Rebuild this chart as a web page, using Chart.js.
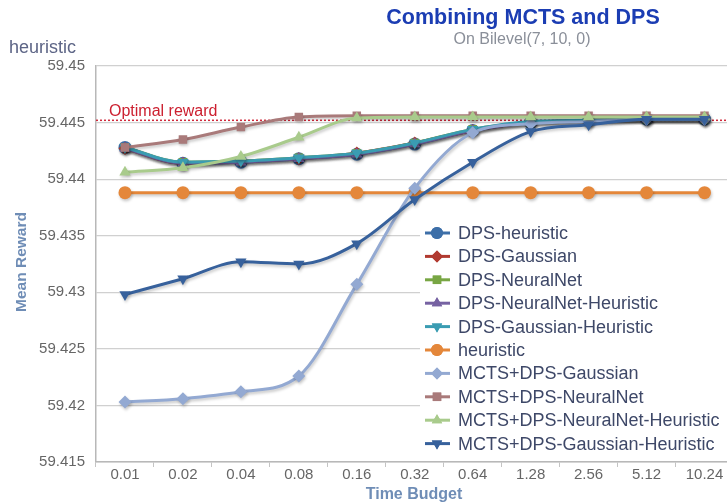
<!DOCTYPE html>
<html>
<head>
<meta charset="utf-8">
<script src="https://cdn.jsdelivr.net/npm/chart.js@4.4.1/dist/chart.umd.min.js"></script>
<style>
  html, body { margin: 0; padding: 0; background: #fff; overflow: hidden; }
  #wrap { position: relative; width: 740px; height: 504px; }
</style>
</head>
<body>
<div id="wrap"><canvas id="chart"></canvas></div>
<script>
  // ---- data ----
  const budgets = ['0.01', '0.02', '0.04', '0.08', '0.16', '0.32', '0.64', '1.28', '2.56', '5.12', '10.24'];
  const yTicks  = [59.415, 59.42, 59.425, 59.43, 59.435, 59.44, 59.445, 59.45];
  const optimalReward = 59.4452;

  const dpsHeuristic      = [59.4428, 59.4414, 59.4415, 59.4418, 59.4422, 59.4431, 59.4443, 59.4450, 59.4452, 59.4453, 59.4453];
  const dpsGaussian       = [59.4427, 59.4414, 59.4416, 59.4418, 59.4423, 59.4432, 59.4443, 59.4450, 59.4452, 59.4453, 59.4453];
  const dpsNeuralNet      = [59.4428, 59.4415, 59.4416, 59.4419, 59.4423, 59.4432, 59.4444, 59.4450, 59.4452, 59.4453, 59.4453];
  const dpsNNHeuristic    = [59.4427, 59.4414, 59.4415, 59.4418, 59.4422, 59.4431, 59.4443, 59.4450, 59.4452, 59.4453, 59.4453];
  const dpsGaussHeuristic = [59.4428, 59.4415, 59.4416, 59.4419, 59.4423, 59.4432, 59.4444, 59.4451, 59.4452, 59.4453, 59.4453];
  const heuristic         = [59.4388, 59.4388, 59.4388, 59.4388, 59.4388, 59.4388, 59.4388, 59.4388, 59.4388, 59.4388, 59.4388];
  const mctsGaussian      = [59.4203, 59.4206, 59.4212, 59.4226, 59.4307, 59.4392, 59.4441, 59.4449, 59.4451, 59.4453, 59.4453];
  const mctsNeuralNet     = [59.4428, 59.4435, 59.4446, 59.4455, 59.4456, 59.4456, 59.4456, 59.4456, 59.4456, 59.4456, 59.4456];
  const mctsNNHeuristic   = [59.4406, 59.4410, 59.4420, 59.4437, 59.4454, 59.4455, 59.4455, 59.4455, 59.4455, 59.4455, 59.4455];
  const mctsGaussHeur     = [59.4298, 59.4312, 59.4327, 59.4325, 59.4343, 59.4382, 59.4415, 59.4442, 59.4448, 59.4453, 59.4453];

  const FONT = '"Liberation Sans", Arial, sans-serif';

  function series(label, data, color, pointStyle, rotation, i) {
    return {
      label, data,
      borderColor: color,
      backgroundColor: color,
      borderWidth: 3,
      pointStyle,
      rotation: rotation || 0,
      pointRadius: pointStyle === 'rect' ? 6 : 6.5,
      pointBorderWidth: 0,
      cubicInterpolationMode: 'monotone',
      order: 10 - i // later series drawn on top
    };
  }

  const datasets = [
    series('DPS-heuristic',               dpsHeuristic,      '#3d6fa8', 'circle',   0,   0),
    series('DPS-Gaussian',                dpsGaussian,       '#b13a30', 'rectRot',  0,   1),
    series('DPS-NeuralNet',               dpsNeuralNet,      '#78a644', 'rect',     0,   2),
    series('DPS-NeuralNet-Heuristic',     dpsNNHeuristic,    '#7662a2', 'triangle', 0,   3),
    series('DPS-Gaussian-Heuristic',      dpsGaussHeuristic, '#3a9cb2', 'triangle', 180, 4),
    series('heuristic',                   heuristic,         '#e4873a', 'circle',   0,   5),
    series('MCTS+DPS-Gaussian',           mctsGaussian,      '#93a9d2', 'rectRot',  0,   6),
    series('MCTS+DPS-NeuralNet',          mctsNeuralNet,     '#a97a7a', 'rect',     0,   7),
    series('MCTS+DPS-NeuralNet-Heuristic',mctsNNHeuristic,   '#a9cb8c', 'triangle', 0,   8),
    series('MCTS+DPS-Gaussian-Heuristic', mctsGaussHeur,     '#37619c', 'triangle', 180, 9)
  ];

  // soft shadow under each line
  const shadowPlugin = {
    id: 'shadow',
    beforeDatasetDraw(chart) {
      const ctx = chart.ctx;
      ctx.save();
      ctx.shadowColor = 'rgba(0,0,0,0.22)';
      ctx.shadowBlur = 3;
      ctx.shadowOffsetX = 1;
      ctx.shadowOffsetY = 2;
    },
    afterDatasetDraw(chart) { chart.ctx.restore(); }
  };

  // dotted "Optimal reward" reference line
  const optimalPlugin = {
    id: 'optimal',
    beforeDatasetsDraw(chart) {
      const { ctx, chartArea, scales } = chart;
      const y = scales.y.getPixelForValue(optimalReward);
      ctx.save();
      ctx.strokeStyle = '#d0283a';
      ctx.lineWidth = 1.5;
      ctx.setLineDash([2, 2]);
      ctx.beginPath();
      ctx.moveTo(chartArea.left, y);
      ctx.lineTo(chartArea.right, y);
      ctx.stroke();
      ctx.setLineDash([]);
      ctx.fillStyle = '#cc2030';
      ctx.font = '16px ' + FONT;
      ctx.textBaseline = 'bottom';
      ctx.textAlign = 'left';
      ctx.fillText('Optimal reward', chartArea.left + 13, y - 1);
      ctx.restore();
    }
  };

  // legend box drawn inside the plot
  const legendPlugin = {
    id: 'innerLegend',
    afterDatasetsDraw(chart) {
      const ctx = chart.ctx;
      const x0 = 420, y0 = 233, rowH = 23.4;
      ctx.save();
      ctx.fillStyle = '#ffffff';
      ctx.fillRect(x0, y0 - 12, chart.chartArea.right - x0, rowH * datasets.length);
      ctx.font = '18px ' + FONT;
      ctx.textBaseline = 'middle';
      ctx.textAlign = 'left';
      datasets.forEach((ds, i) => {
        const y = y0 + i * rowH;
        ctx.strokeStyle = ds.borderColor;
        ctx.lineWidth = 3;
        ctx.beginPath();
        ctx.moveTo(x0 + 5, y);
        ctx.lineTo(x0 + 30, y);
        ctx.stroke();
        ctx.fillStyle = ds.backgroundColor;
        if (Chart.helpers && Chart.helpers.drawPoint) {
          Chart.helpers.drawPoint(ctx, { pointStyle: ds.pointStyle, rotation: ds.rotation, radius: 6, borderWidth: 0 }, x0 + 17, y);
          ctx.fill();
        } else {
          ctx.beginPath(); ctx.arc(x0 + 17, y, 6, 0, Math.PI * 2); ctx.fill();
        }
        ctx.fillStyle = '#3e4868';
        ctx.fillText(ds.label, x0 + 38, y + 1);
      });
      ctx.restore();
    }
  };

  // titles and axis names
  const textPlugin = {
    id: 'texts',
    afterDraw(chart) {
      const { ctx, chartArea } = chart;
      ctx.save();
      ctx.textBaseline = 'middle';
      ctx.textAlign = 'center';
      ctx.fillStyle = '#1b3db3';
      ctx.font = 'bold 21.5px ' + FONT;
      ctx.fillText('Combining MCTS and DPS', 523, 18);
      ctx.fillStyle = '#8a8f99';
      ctx.font = '16px ' + FONT;
      ctx.fillText('On Bilevel(7, 10, 0)', 522, 40);

      ctx.textAlign = 'left';
      ctx.fillStyle = '#5d6586';
      ctx.font = '18px ' + FONT;
      ctx.fillText('heuristic', 9, 48);

      ctx.fillStyle = '#6f8db6';
      ctx.font = 'bold 16px ' + FONT;
      ctx.textAlign = 'center';
      ctx.fillText('Time Budget', 414, 495);
      ctx.font = 'bold 15.5px ' + FONT;
      ctx.translate(22, 262);
      ctx.rotate(-Math.PI / 2);
      ctx.fillText('Mean Reward', 0, 0);
      ctx.restore();
    }
  };

  new Chart(document.getElementById('chart'), {
    type: 'line',
    data: { labels: budgets, datasets },
    plugins: [shadowPlugin, optimalPlugin, legendPlugin, textPlugin],
    options: {
      responsive: true,
      maintainAspectRatio: false,
      animation: false,
      layout: { padding: { top: 66, right: 6, left: 0, bottom: 0 } },
      plugins: {
        legend: { display: false },
        title: { display: false },
        tooltip: { enabled: false }
      },
      scales: {
        x: {
          offset: true,
          grid: { offset: true, drawOnChartArea: false, drawTicks: true, tickLength: 5, color: '#c4c4c4' },
          border: { color: '#b8b8b8', width: 1.5 },
          ticks: { color: '#666', font: { family: FONT, size: 15 }, padding: -1, maxRotation: 0 },
          afterFit(scale) { scale.height = 42; }
        },
        y: {
          min: 59.415,
          max: 59.45,
          afterBuildTicks(scale) { scale.ticks = yTicks.map(v => ({ value: v })); },
          grid: { color: '#d0d0d0', lineWidth: 1.2, drawTicks: false },
          border: { color: '#b8b8b8', width: 1.5 },
          ticks: {
            color: '#666',
            font: { family: FONT, size: 15 },
            padding: 11,
            callback: v => String(v)
          },
          afterFit(scale) { scale.width = 96; }
        }
      }
    }
  });
</script>
</body>
</html>
